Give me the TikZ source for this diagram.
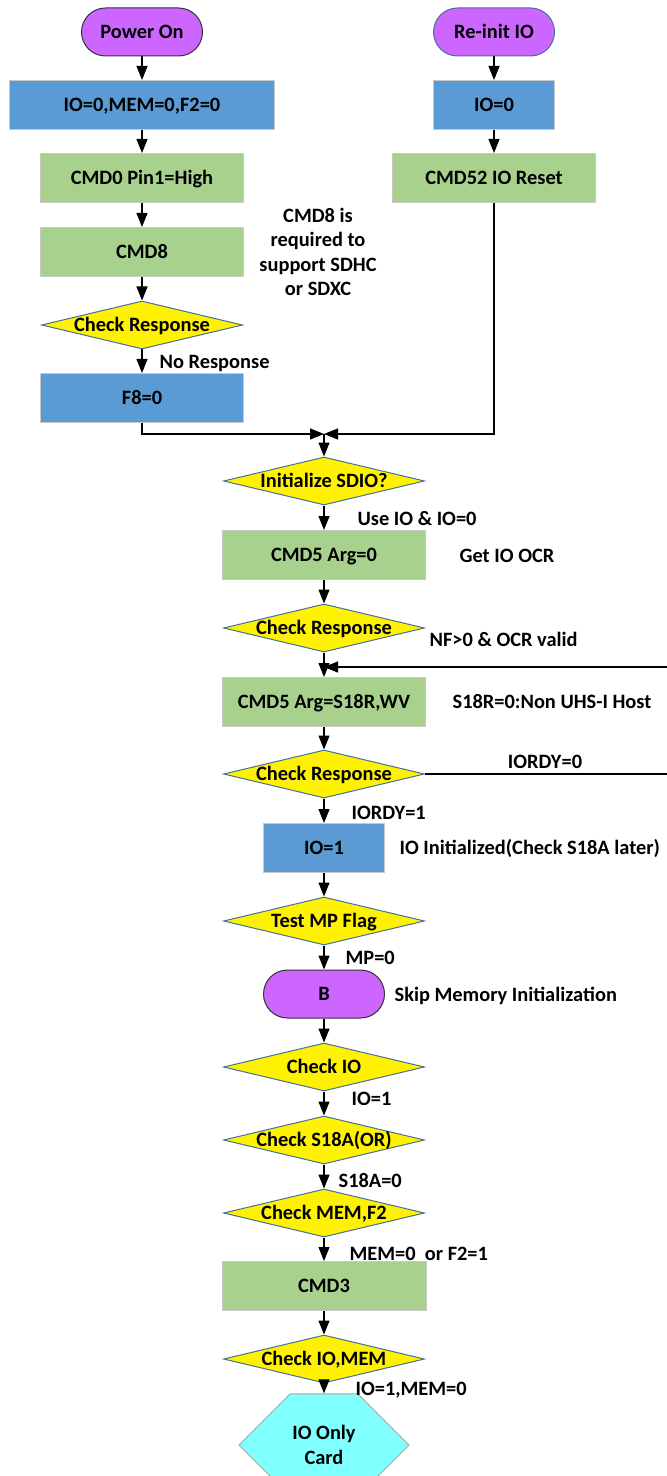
\documentclass[tikz,border=0pt]{standalone}
\usepackage{fontspec}
\setmainfont{Carlito}
\usetikzlibrary{shapes.geometric,shapes.misc,arrows.meta}

\definecolor{termviolet}{HTML}{CC66FF}
\definecolor{setblue}{HTML}{5B9BD5}
\definecolor{cmdgreen}{HTML}{A9D18E}
\definecolor{boxedge}{HTML}{C9C9C9}
\definecolor{diaedge}{HTML}{41719C}
\definecolor{cardcyan}{HTML}{80FFFF}

\begin{document}
\begin{tikzpicture}[x=0.5pt,y=-0.5pt,->,>={Triangle[length=7pt,width=5.5pt]},line width=0.6pt]
        \tikzstyle{every node}=[font=\fontsize{10.2}{12.3}\selectfont\bfseries]
        \tikzstyle{block}=[rectangle,draw=boxedge,line width=0.5pt,minimum height=24.5pt,inner sep=2pt,text height=6.6pt,text depth=0.2pt]
        \tikzstyle{set block}=[block,fill=setblue]
        \tikzstyle{cmd block}=[block,fill=cmdgreen,minimum width=101.5pt]
        \tikzstyle{start}=[block,rounded corners=12pt,fill=termviolet,draw=black!80,minimum width=60.5pt,minimum height=24pt]
        \tikzstyle{decision}=[diamond,aspect=4.2,fill=yellow,draw=diaedge,line width=0.5pt,minimum width=100.5pt,minimum height=24pt,inner sep=0pt,text height=6.6pt,text depth=0.2pt]
        \tikzstyle{card}=[chamfered rectangle,chamfered rectangle xsep=14pt,chamfered rectangle ysep=18.5pt,fill=cardcyan,draw=black!35,line width=0.5pt,minimum width=85pt,minimum height=37pt,inner sep=0pt,align=center]
        \tikzstyle{annot}=[inner sep=0pt,text height=6.6pt,text depth=0.2pt]

        \useasboundingbox (0,0) rectangle (667,1476);

        % Power on branch
        \node[start] (power) at (142,32) {Power On};
        \node[set block,minimum width=132.5pt] (reset) at (142,105) {IO=0,MEM=0,F2=0};
        \node[cmd block] (cmd0) at (142,178) {CMD0 Pin1=High};
        \node[cmd block] (cmd8) at (142,252) {CMD8};
        \node[decision] (resp8) at (142,325) {Check Response};
        \node[set block,minimum width=101.5pt] (f8) at (142,398) {F8=0};

        % Re-init branch
        \node[start,draw=diaedge] (reinit) at (494,32) {Re-init IO};
        \node[set block,minimum width=60.5pt] (io0) at (494,105) {IO=0};
        \node[cmd block] (cmd52) at (494,178) {CMD52 IO Reset};

        % Common IO initialization
        \coordinate (join) at (324,434);
        \node[decision] (sdio) at (324,481) {Initialize SDIO?};
        \node[cmd block] (cmd5) at (324,555) {CMD5 Arg=0};
        \node[decision] (resp5) at (324,628) {Check Response};
        \coordinate (loop) at (324,667);
        \coordinate (back) at (672,667);
        \node[cmd block] (cmd5v) at (324,702) {CMD5 Arg=S18R,WV};
        \node[decision] (ready) at (324,774) {Check Response};
        \node[set block,minimum width=60.5pt] (io1) at (324,848) {IO=1};
        \node[decision] (mp) at (324,921) {Test MP Flag};
        \node[start] (B) at (324,994) {B};
        \node[decision] (chkio) at (324,1067) {Check IO};
        \node[decision] (s18a) at (324,1140) {Check S18A(OR)};
        \node[decision] (memf2) at (324,1213) {Check MEM,F2};
        \node[cmd block,minimum width=102pt] (cmd3) at (324,1286) {CMD3};
        \node[decision] (iomem) at (324,1359) {Check IO,MEM};
        \node[card] (card) at (324,1445) {IO Only\\Card};

        % Annotate the steps
        \node[align=center] (cmd8note) at (318,252) {CMD8 is\\required to\\support SDHC\\or SDXC};
        \node[annot,anchor=west] (noresp) at (159,362) {No Response};
        \node[annot,anchor=west] (useio) at (357,519) {Use IO \& IO=0};
        \node[annot,anchor=west] (getocr) at (459,556) {Get IO OCR};
        \node[annot,anchor=west] (nfok) at (429,640) {NF>0 \& OCR valid};
        \node[annot,anchor=west] (s18r) at (452,702) {S18R=0:Non UHS-I Host};
        \node[annot] (rdy0) at (545,762) {IORDY=0};
        \node[annot,anchor=west] (rdy1) at (351,813) {IORDY=1};
        \node[annot,anchor=west] (ioinit) at (399,848) {IO Initialized(Check S18A later)};
        \node[annot,anchor=west] (mp0) at (345,958) {MP=0};
        \node[annot,anchor=west] (skipmem) at (394,995) {Skip Memory Initialization};
        \node[annot,anchor=west] (ioone) at (351,1099) {IO=1};
        \node[annot,anchor=west] (s18a0) at (338,1181) {S18A=0};
        \node[annot,anchor=west] (mem0) at (349,1254) {MEM=0\ \ or F2=1};
        \node[annot,anchor=west] (iomem0) at (355,1389) {IO=1,MEM=0};

        % Connect the steps
        \foreach \source/\dest in {power/reset,reset/cmd0,cmd0/cmd8,cmd8/resp8,resp8/f8,
                reinit/io0,io0/cmd52,join/sdio,sdio/cmd5,cmd5/resp5,resp5/cmd5v,cmd5v/ready,
                ready/io1,io1/mp,mp/B,B/chkio,chkio/s18a,s18a/memf2,memf2/cmd3,cmd3/iomem,iomem/card}
            \path (\source) edge (\dest);

        % Both branches meet before SDIO init
        \draw (f8.south) |- (join);
        \draw (cmd52.south) |- (join);

        % Retry CMD5 until IORDY
        \draw (ready.east) -| (back) -- (loop);
    \end{tikzpicture}
\end{document}
